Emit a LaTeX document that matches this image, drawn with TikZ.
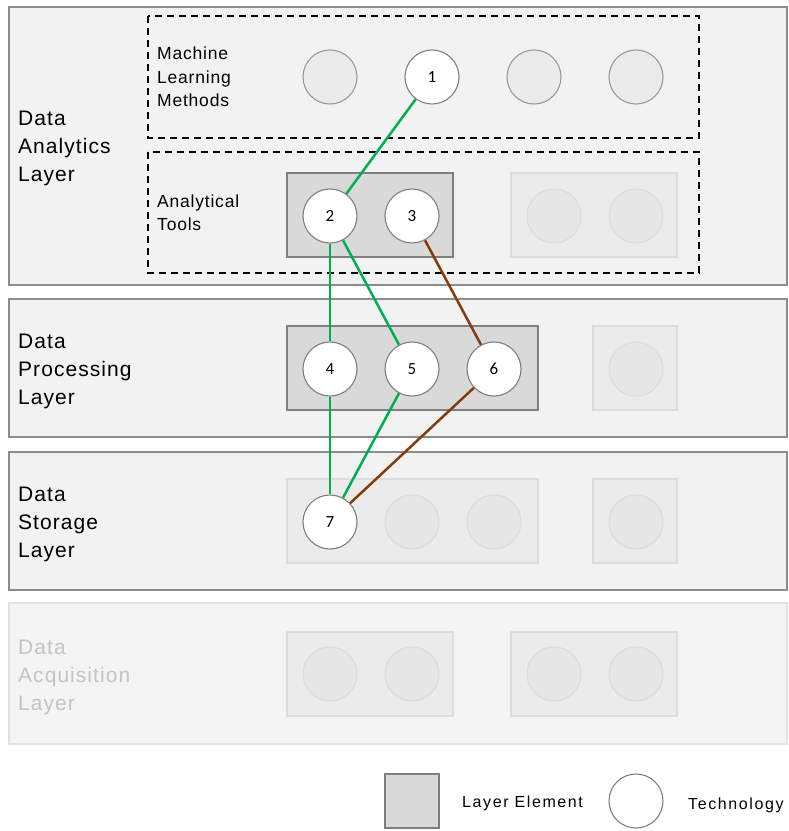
\documentclass[tikz,border=0pt]{standalone}
\usepackage{fontspec}
\setmainfont{Liberation Sans}
\newfontfamily\numfont{Carlito}
\newfontfamily\layerfont[LetterSpace=5]{Liberation Sans}
\newfontfamily\groupfont[LetterSpace=4.5]{Liberation Sans}
\newfontfamily\legfont[LetterSpace=10]{Liberation Sans}
\definecolor{layerfill}{HTML}{F2F2F2}
\definecolor{layerdraw}{HTML}{8C8C8C}
\definecolor{elemfill}{HTML}{D9D9D9}
\definecolor{elemdraw}{HTML}{7F7F7F}
\definecolor{fadefill}{HTML}{EBEBEB}
\definecolor{fadedraw}{HTML}{DCDCDC}
\definecolor{fadecirc}{HTML}{E6E6E6}
\definecolor{mlcirc}{HTML}{EBEBEB}
\definecolor{mldraw}{HTML}{9A9A9A}
\definecolor{acqfill}{HTML}{F4F4F4}
\definecolor{acqdraw}{HTML}{E2E2E2}
\definecolor{acqtext}{HTML}{C4C4C4}
\definecolor{lgreen}{HTML}{00B050}
\definecolor{lbrown}{HTML}{843C0C}
\tikzset{
  layerbox/.style={draw=layerdraw, fill=layerfill, line width=1.3pt},
  acqbox/.style={draw=acqdraw, fill=acqfill, line width=1.3pt},
  groupbox/.style={draw=black, dash pattern=on 7pt off 5pt, line width=1.2pt},
  elembox/.style={draw=elemdraw, fill=elemfill, line width=1.1pt},
  fadebox/.style={draw=fadedraw, fill=fadefill, line width=1.1pt},
  tech/.style={circle, draw=elemdraw, fill=white, line width=1.1pt, minimum size=54pt, inner sep=0pt, font=\numfont\fontsize{17}{20}\selectfont},
  mltech/.style={circle, draw=mldraw, fill=mlcirc, line width=1.1pt, minimum size=54pt, inner sep=0pt},
  fadetech/.style={circle, draw=fadedraw, fill=fadecirc, line width=1.1pt, minimum size=54pt, inner sep=0pt},
  layertext/.style={anchor=west, align=left, inner sep=0pt, font=\layerfont\fontsize{21}{28}\selectfont},
  grouptext/.style={anchor=west, align=left, inner sep=0pt, font=\groupfont\fontsize{17.5}{23.5}\selectfont},
  legtext/.style={anchor=west, inner sep=0pt, font=\legfont\fontsize{16}{19}\selectfont},
  gline/.style={draw=lgreen, line width=2.5pt},
  bline/.style={draw=lbrown, line width=2.5pt},
}
\begin{document}
\begin{tikzpicture}[x=1pt,y=-1pt]
\useasboundingbox (0,0) rectangle (789,831);
% layers
\draw[layerbox] (9,7) rectangle (787,285);
\draw[layerbox] (9,299) rectangle (787,437);
\draw[layerbox] (9,452) rectangle (787,590);
\draw[acqbox] (9,603) rectangle (787,744);
% layer texts
\node[layertext] (tA) at (18,148) {Data\\Analytics\\Layer};
\node[layertext] (tP) at (18,371) {Data\\Processing\\Layer};
\node[layertext] (tS) at (18,524) {Data\\Storage\\Layer};
\node[layertext, text=acqtext] (tQ) at (18,677) {Data\\Acquisition\\Layer};
% groups
\draw[groupbox] (148,16) rectangle (699,138);
\draw[groupbox] (148,152) rectangle (699,273);
\node[grouptext] (gML) at (157,77) {Machine\\Learning\\Methods};
\node[grouptext] (gAT) at (157,212.5) {Analytical\\Tools};
% element boxes
\draw[elembox] (287,173) rectangle (453,257);
\draw[fadebox] (511,173) rectangle (677,257);
\draw[elembox] (287,326) rectangle (538,410);
\draw[fadebox] (593,326) rectangle (677,410);
\draw[fadebox] (287,479) rectangle (538,563);
\draw[fadebox] (593,479) rectangle (677,563);
\draw[fadebox] (287,632) rectangle (453,716);
\draw[fadebox] (511,632) rectangle (677,716);
% ML circles
\node[mltech] (m1) at (330,77) {};
\node[mltech] (m3) at (534,77) {};
\node[mltech] (m4) at (636,77) {};
% faded circles
\node[fadetech] (fa1) at (554,216) {};
\node[fadetech] (fa2) at (636,216) {};
\node[fadetech] (fp1) at (636,369) {};
\node[fadetech] (fs1) at (412,522) {};
\node[fadetech] (fs2) at (494,522) {};
\node[fadetech] (fs3) at (636,522) {};
\node[fadetech] (fq1) at (330,674) {};
\node[fadetech] (fq2) at (412,674) {};
\node[fadetech] (fq3) at (554,674) {};
\node[fadetech] (fq4) at (636,674) {};
% technologies
\node[tech] (n1) at (432,77) {1};
\node[tech] (n2) at (330,216) {2};
\node[tech] (n3) at (412,216) {3};
\node[tech] (n4) at (330,369) {4};
\node[tech] (n5) at (412,369) {5};
\node[tech] (n6) at (494,369) {6};
\node[tech] (n7) at (330,522) {7};
% connectors
\draw[gline] (n1) -- (n2);
\draw[gline] (n2) -- (n4);
\draw[gline] (n2) -- (n5);
\draw[bline] (n3) -- (n6);
\draw[gline] (n4) -- (n7);
\draw[gline] (n5) -- (n7);
\draw[bline] (n6) -- (n7);
% legend
\draw[elembox] (385,774) rectangle (439,828);
\node[legtext] (lE) at (462,803) {Layer Element};
\node[tech] (lT) at (636,801) {};
\node[legtext] (lTt) at (688,805) {Technology};
\end{tikzpicture}
\end{document}
